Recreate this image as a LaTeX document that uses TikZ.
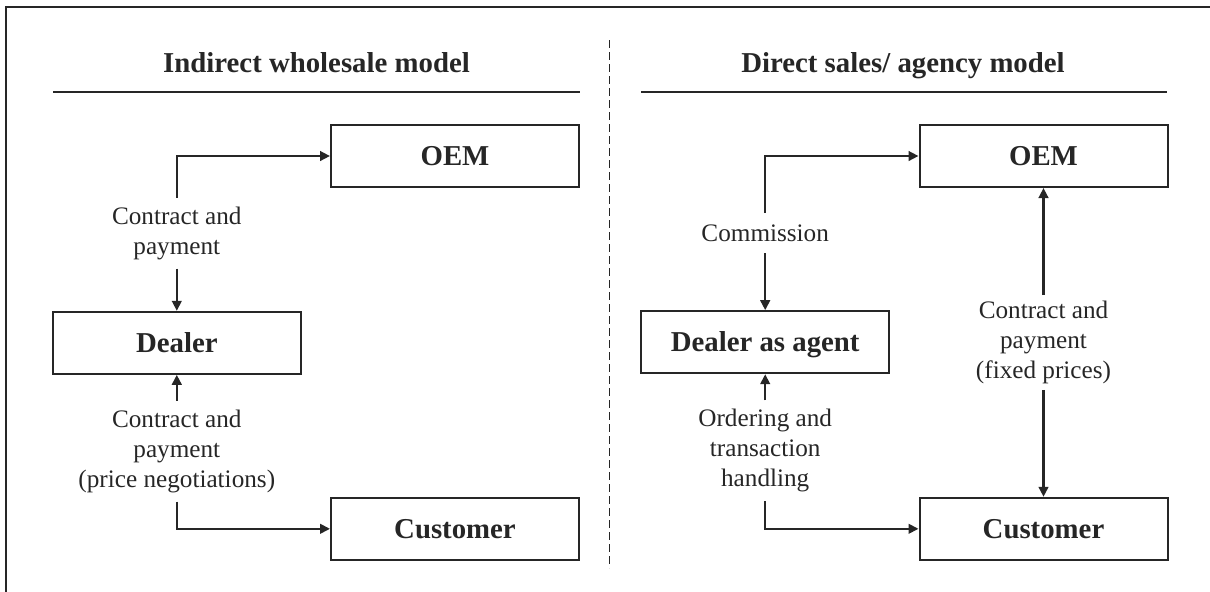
\documentclass[tikz,border=0pt]{standalone}
\usepackage{fontspec}
\setmainfont{Liberation Serif}
\usetikzlibrary{positioning, arrows.meta}
\definecolor{ink}{HTML}{262626}
\tikzset{
  party/.style = {rectangle, draw=ink, line width=1pt, text=ink,
                  minimum width=124pt, minimum height=31pt, inner sep=0pt,
                  font=\fontsize{14.4}{17}\selectfont\bfseries,
                  text height=9.5pt, text depth=0pt},
  lab/.style   = {align=center, text=ink, inner xsep=2pt, inner ysep=4.3pt,
                  font=\fontsize{12.6}{15}\selectfont},
  head/.style  = {anchor=base, text=ink, font=\fontsize{14.4}{17}\selectfont\bfseries},
  rule/.style  = {draw=ink, line width=1pt},
  flow/.style  = {draw=ink, line width=1.2pt, -{Triangle[length=5pt, width=4.8pt]}},
}

\begin{document}
\begin{tikzpicture}[x=0.5pt, y=-0.5pt]
\useasboundingbox (0,0) rectangle (1210,591);

% frame and the dashed split between the two models
\draw [rule] (6,600) -- (6,7) -- (1220,7);
\draw [ink, line width=0.7pt, dash pattern=on 4pt off 2pt] (609.5,40) -- (609.5,568);

% Left: indirect wholesale model
\node (h1) [head] at (316.5,72.3) {Indirect wholesale model};
\draw [rule] (53,91.7) -- (580,91.7);

\node (oem1)  [party] at (455,156)     {OEM};
\node (deal1) [party] at (176.8,342.8) {Dealer};
\node (cust1) [party] at (455,528.8)   {Customer};

\node (pay1) [lab] at (176.8,233.2) {Contract and\\payment};
\node (neg1) [lab] at (176.8,451.2) {Contract and\\payment\\(price negotiations)};

\draw [flow] (pay1) |- (oem1);
\draw [flow] (pay1) -- (deal1);
\draw [flow] (neg1) -- (deal1);
\draw [flow] (neg1) |- (cust1);

% Right: direct sales / agency model
\node (h2) [head] at (903,72.3) {Direct sales/ agency model};
\draw [rule] (641,91.7) -- (1167,91.7);

\node (oem2)  [party] at (1043.5,156)   {OEM};
\node (agent) [party] at (765.2,342.2)  {Dealer as agent};
\node (cust2) [party] at (1043.5,528.8) {Customer};

\node (comm)  [lab, inner ysep=5.6pt] at (765.2,233.2) {Commission};
\node (fixed) [lab, inner ysep=2.8pt] at (1043.5,342.5) {Contract and\\payment\\(fixed prices)};
\node (order) [lab] at (765.2,450.9) {Ordering and\\transaction\\handling};

\draw [flow] (comm) |- (oem2);
\draw [flow] (comm) -- (agent);
\draw [flow] (fixed) -- (oem2);
\draw [flow] (fixed) -- (cust2);
\draw [flow] (order) -- (agent);
\draw [flow] (order) |- (cust2);

\end{tikzpicture}
\end{document}
